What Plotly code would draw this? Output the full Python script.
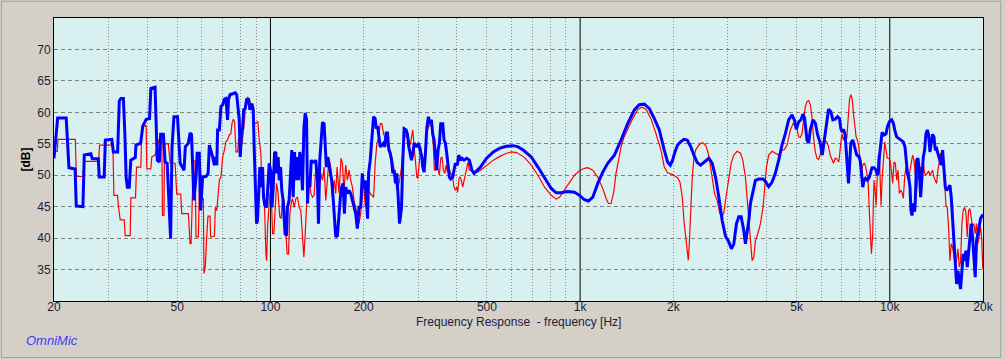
import plotly.graph_objects as go

# ---- data (frequency in Hz, level in dB) ----
red_freq = [20.0, 20.5, 20.6, 23.44, 23.61, 24.85, 25.0, 27.86, 28.07, 30.99, 31.22, 32.08, 32.32, 32.72, 33.71,
            33.96, 35.24, 35.42, 36.67, 36.94, 38.14, 38.43, 39.68, 39.88, 41.08, 41.39, 42.42, 43.59, 44.6, 44.8,
            45.3, 45.5, 46.8, 47.42, 49.22, 49.82, 51.3, 51.7, 54.32, 54.73, 55.0, 55.41, 55.82, 56.38, 57.08,
            57.5, 58.5, 59.23, 59.97, 60.71, 61.01, 61.62, 62.24, 62.85, 63.79, 64.1, 65.9,
            66.4, 67.1, 68.4, 69.2, 70.1, 71.0, 71.8, 72.7, 73.6, 74.5, 75.1, 75.8, 76.6, 77.4, 78.4, 78.9, 79.7,
            80.9, 81.7, 82.5, 83.3, 84.3, 85.4, 86.5, 87.6, 88.4, 90.0, 91.1, 92.0, 93.1, 93.8, 94.8, 95.7, 96.7,
            97.2, 97.9, 98.6, 99.6, 100.5, 101.6, 102.6, 103.6, 104.6, 105.6, 107.2, 108.3, 109.4, 110.7, 112.1,
            113.2, 114.4, 115.5, 116.6, 117.8, 119.3, 120.8, 122.3, 123.8, 125.3, 126.9, 128.2, 129.5, 130.8,
            132.0, 133.3, 135.0, 136.7, 138.4, 140.1, 141.8, 143.6, 145.4, 147.2, 149.0, 150.9, 152.8, 154.6,
            156.5, 158.5, 160.5, 162.5, 164.1, 166.5, 169.0, 170.7, 172.8, 175.0, 177.2, 179.4, 181.6, 183.9,
            186.2, 188.5, 190.8, 193.2, 195.6, 198.0,
            199.9, 202.4, 204.9, 210.0, 215.3, 217.9, 220.7, 223.4, 226.2, 229.0, 231.8, 234.7, 237.6, 240.6,
            243.6, 246.6, 248.5, 250.9, 253.4, 255.9, 258.5, 261.1, 265.0, 268.9, 272.3, 275.6, 279.1, 282.6,
            286.1, 288.2, 291.1, 294.0, 296.9, 299.1, 302.0, 305.8, 308.9, 311.9, 315.8, 319.7, 323.7, 327.7,
            331.8, 335.9, 338.4, 341.0, 344.3, 348.7, 351.2, 354.7, 358.2, 361.8, 365.4, 369.0, 372.7, 376.4,
            382.0, 387.7, 391.6, 395.5, 399.4, 402.3, 406.3, 409.4, 413.5, 417.6, 421.7, 425.9, 430.1, 434.5,
            438.7, 443.1, 452.0, 457.5, 475.0, 499.0, 524.3, 550.8, 578.7, 600.5, 623.3,
            661.9, 695.4, 730.7, 767.7, 806.6, 837.1, 858.1, 890.4, 924.1, 959.0, 995.3, 1032.8, 1058.7, 1099,
            1140.2, 1183.3, 1212.9, 1234.1, 1258.7, 1283.8, 1306.2, 1332.3, 1355.8, 1382.7, 1424.4, 1478.2,
            1534.1, 1580.5, 1632.3, 1693.4, 1758.1, 1823.9, 1869.8, 1916.5, 1989.0, 2063.9,
            2101, 2138, 2164.2, 2191, 2218.6, 2235, 2252, 2273.8, 2302, 2330.9, 2360, 2419, 2480, 2542, 2586,
            2624, 2670.4, 2717, 2771, 2826, 2875.8, 2912, 2970, 3021.6, 3074, 3135.7, 3214, 3295, 3352, 3419.2,
            3479, 3531, 3593, 3637, 3682.7, 3747, 3822, 3898.1, 3947, 3996, 4065.2, 4167, 4271, 4378.1, 4455,
            4566, 4658, 4714.9, 4775, 4870, 4955, 5016, 5076.9, 5142, 5206, 5271, 5336, 5403, 5470, 5538, 5607,
            5676, 5747, 5818, 5891, 5964, 6038, 6113,
            6264, 6342, 6421, 6501, 6581, 6663, 6746, 6847, 6914, 7000, 7088, 7177, 7265, 7338, 7410, 7484, 7558,
            7633, 7710, 7786, 7863, 7941, 8020, 8099, 8180, 8261, 8344, 8426, 8510, 8595, 8681, 8724, 8767, 8810,
            8854, 8898, 8964, 9031, 9120, 9188, 9257, 9303, 9372, 9442, 9536, 9631, 9727, 9823, 9920, 10019,
            10119, 10220, 10321, 10424, 10527, 10631, 10737, 10844, 10952, 11060, 11171, 11281, 11394, 11507,
            11621, 11736, 11853, 11971, 12090, 12210, 12331, 12454, 12578, 12703, 12830, 12958, 13087, 13217,
            13349, 13481, 13615, 13751, 13888, 14026, 14166, 14306, 14449, 14593, 14737, 14885, 15032, 15182,
            15333, 15485, 15639, 15795, 15952, 16111, 16271, 16433, 16596, 16762, 16928, 17097, 17267, 17439,
            17613, 17788, 17965, 18144, 18324, 18506, 18691, 18877, 19064, 19254, 19446, 19640, 19823, 19970]
red_db = [53.8, 53.8, 55.7, 55.7, 49.8, 49.8, 52.2, 52.2, 54.8, 54.8, 46.8, 46.8, 44.9, 42.9, 42.9,
          40.4, 40.4, 46.4, 46.4, 51.3, 51.3, 57.7, 57.9, 51.0, 51.0, 52.9, 53.2, 55.6, 55.6, 43.6,
          43.6, 55.0, 55.0, 51.9, 51.9, 47.0, 47.0, 43.9, 43.9, 41.8, 39.1, 39.1, 45.0, 52.3, 52.3,
          40.2, 40.2, 52.3, 46.3, 46.3, 34.4, 35.4, 40.2, 43.5, 43.5, 40.2, 40.3,
          44.9, 44.4, 49.2, 49.7, 52.9, 54.0, 55.3, 55.6, 56.4, 56.6, 58.2, 58.9, 58.5, 53.7, 53.7, 55.9, 55.1,
          54.8, 56.4, 58.8, 62.0, 62.4, 62.2, 61.2, 61.2, 58.0, 58.4, 58.5, 55.6, 53.5, 49.2, 47.1, 44.9, 37.5,
          36.4, 41.8, 44.9, 47.1, 47.6, 40.7, 40.7, 46.0, 48.7, 47.6, 43.4, 43.1, 46.5, 46.0, 40.7,
          37.5, 37.5, 43.9, 45.5, 46.3, 44.9, 46.3, 46.5, 44.9, 44.4, 39.6, 37.0, 40.7, 44.9,
          49.2, 49.7, 47.1, 46.5, 46.8, 51.3, 48.1, 47.6, 50.3, 49.2, 51.3, 46.0, 50.3, 52.7,
          51.3, 46.5, 49.2, 47.1, 51.3, 47.1, 52.7, 51.9, 47.6, 51.6, 49.2, 50.8, 49.2, 48.1,
          46.0, 44.9, 43.4, 42.3, 43.9, 47.1,
          49.0, 45.0, 48.1, 47.1, 46.5, 51.9, 55.1, 55.9, 58.2, 58.2, 56.6, 55.9, 56.1, 54.5,
          54.0, 52.9, 51.9, 50.3, 49.7, 47.6, 48.1, 49.2, 51.3, 55.0, 56.4, 56.1, 55.9, 54.8,
          56.6, 57.2, 54.5, 52.4, 49.7, 49.5, 51.9, 54.5, 52.9, 52.4, 52.4, 56.6, 57.7, 58.0,
          57.7, 54.5, 50.8, 50.8, 51.9, 50.8, 50.0, 52.7, 52.9, 50.8, 50.3, 51.6, 50.5, 51.3,
          50.3, 49.7, 48.1, 47.6, 48.1, 47.3, 49.5, 49.7, 49.2, 48.1, 49.2, 50.3, 51.3, 52.1,
          50.8, 50.8, 50.5, 50.3, 50.7, 51.6, 52.4, 53.0, 53.5, 53.7, 53.6,
          52.8, 51.6, 50.0, 48.1, 46.8, 46.2, 46.5, 47.6, 48.9, 50.0, 50.7, 51.1, 51.2, 50.8,
          49.7, 47.9, 46.3, 45.5, 45.5, 47.3, 50.3, 52.9, 54.5, 55.9, 57.4, 59.0,
          60.4, 60.8, 60.5, 59.0, 56.6, 54.0, 51.3, 50.4, 50.1, 49.6,
          48.9, 46.5, 42.8, 40.2, 37.5, 36.5, 39.1, 43.4, 49.7, 52.7, 54.0, 54.8, 55.2, 54.8, 53.7,
          52.1, 49.2, 47.1, 46.0, 43.9, 43.4, 44.1, 47.1, 49.7, 51.9, 53.2, 53.8, 53.5, 52.4, 49.7,
          45.5, 41.2, 36.4, 36.9, 39.6, 40.7, 42.3, 44.9, 47.6, 51.3, 53.2, 53.8, 53.5, 53.2, 53.9,
          54.1, 54.8, 56.1, 57.2, 58.2, 57.9, 57.4, 56.1, 56.0, 56.6, 58.8, 60.9, 61.7, 61.9, 61.2, 59.3,
          55.9, 53.7, 52.7, 52.5, 53.3, 54.5, 55.6,
          55.3, 54.5, 53.2, 52.4, 51.9, 52.7, 52.6, 52.1, 54.1, 56.6, 55.6, 56.6, 55.9, 59.3, 62.0, 62.8, 62.2,
          59.8, 58.2, 56.1, 55.6, 54.5, 52.4, 50.5, 51.6, 51.9, 51.6, 50.3, 49.2, 43.9, 39.1, 37.5, 39.1, 40.7,
          46.0, 49.2, 47.6, 45.2, 50.3, 53.2, 52.9, 50.3, 45.2, 49.2, 52.9, 55.3, 54.0, 52.7, 52.7, 52.4,
          50.8, 48.7, 52.1, 51.9, 49.2, 50.8, 47.1, 47.6, 47.3, 46.3, 49.7, 51.3, 49.7, 49.2,
          50.8, 52.4, 53.2, 52.4, 50.3, 47.6, 50.5, 49.2, 51.3, 50.8, 51.9, 50.3, 50.0, 50.3,
          50.7, 50.0, 50.5, 50.8, 49.7, 49.2, 48.7, 50.8, 52.4, 53.5, 53.2, 51.9, 49.2, 45.2,
          44.9, 41.7, 36.4, 39.1, 38.5, 37.2, 35.9, 36.4, 38.3, 35.4, 36.2, 42.3, 44.4, 44.9,
          44.1, 40.2, 44.4, 44.7, 43.4, 41.8, 42.3, 40.7, 42.3, 39.1, 40.4, 41.8, 39.6, 35.1]

blue_freq = [20.0, 20.55, 21.9, 22.1, 22.35, 23.4, 23.6, 24.8, 25.05, 26.3, 26.6, 27.8, 28.0, 29.05, 29.3,
             30.75, 31.1, 32.1, 32.5, 32.9, 33.5, 33.85, 34.2, 34.5, 35.0, 35.4, 36.6, 36.8, 38.1, 38.7, 39.7,
             40.7, 41.1, 42.4, 42.8, 43.1, 43.8, 44.2, 45.1, 45.7, 46.4, 47.1, 47.6, 48.1, 48.8, 50.1, 50.6,
             51.1, 52.6, 53.1, 54.3, 55.0, 55.6, 56.0, 56.6, 57.5, 58.0, 58.9, 59.5, 60.4, 62.0, 62.9, 63.5,
             65.1, 65.9, 66.4, 67.1, 67.5, 68.4, 69.2, 70.1, 71.0, 71.8, 72.7, 73.2, 74.0, 75.5, 77.0, 77.8,
             78.4, 79.3, 79.9, 80.7, 81.3, 81.9, 82.9, 83.7, 85.0, 85.8, 87.1, 88.0, 88.6, 89.3, 90.2, 90.8,
             91.5, 92.4, 93.1, 94.3, 95.0, 95.9, 97.2, 98.1, 99.1, 100.3, 101.1, 102.1, 103.1, 104.1, 104.9,
             105.9, 106.7, 107.8, 108.8, 109.9, 111.5, 112.7, 113.5, 114.9, 116.1, 117.2, 118.4, 119.6, 120.8,
             122.0, 123.2, 124.4, 125.7, 126.9, 128.2, 129.5, 130.8, 131.8, 132.8, 134.1, 135.4, 136.7, 138.4,
             140.1, 141.8, 142.9, 144.3, 145.7, 147.2, 149.0, 150.1, 151.6, 153.1, 155.4, 157.7, 159.3, 160.9,
             162.5, 164.5, 166.5, 168.2, 169.9, 171.6, 173.3, 175.0, 177.2, 179.4, 181.6, 183.9, 186.2, 188.5,
             190.8, 193.2, 195.6, 198.0,
             199.9, 202.4, 205.9, 207.5, 210.0, 212.6, 215.3, 217.9, 219.6, 221.8, 224.0, 226.2, 229.0, 231.8,
             234.1, 236.5, 238.8, 241.2, 243.6, 246.0, 248.5, 250.9, 253.4, 255.9, 258.5, 261.1, 263.0, 265.0,
             267.6, 270.2, 274.3, 277.0, 279.8, 282.6, 285.4, 288.2, 291.1, 294.0, 296.9, 300.6, 304.3, 308.1,
             310.4, 313.5, 316.6, 319.7, 323.7, 327.7, 331.0, 334.3, 337.6, 341.0, 344.3, 347.8, 351.2, 354.7,
             360.0, 363.6, 367.2, 370.9, 374.5, 378.3, 382.0, 387.7, 391.6, 395.5, 401.4, 405.3, 411.4, 415.5,
             421.7, 430.1, 438.7, 443.1, 447.5, 454.2, 475.0, 499.0, 524.3, 550.8, 578.7, 608.0, 631.0, 654.9,
             695.4, 730.7, 767.7, 806.6, 837.1, 868.7, 912.7, 959.0, 995.3, 1032.8, 1064.0, 1099, 1140.2,
             1183.3, 1228.0, 1290.2, 1355.8, 1424.4, 1496.9, 1553.4, 1612.2, 1673.3, 1736.3, 1801.7, 1869.8,
             1916.5, 1954.8, 1989.0, 2023.9, 2063.9,
             2111.5, 2164.2, 2218.6, 2273.8, 2330.9, 2389.2, 2448.9, 2510.3, 2605.5, 2670.4, 2737.1, 2805.7,
             2875.8, 2947.9, 3021.6, 3081.8, 3135.7, 3198.4, 3254.4, 3311.2, 3377.2, 3419.2, 3461.8, 3504.9,
             3548.4, 3619.6, 3682.7, 3774.7, 3898.1, 3966.1, 4065.2, 4167.0, 4271.2, 4378.1, 4487.5, 4599.8,
             4714.9, 4832.8, 4917.0, 4990.1, 5076.9, 5165.2, 5242.1, 5307.2, 5403.4, 5471.6, 5537.3, 5649.8,
             5748.6, 5849.0, 5963.7, 6052.7, 6114.1, 6189.3, 6297.0,
             6342, 6453, 6549, 6663, 6780, 6881, 6949, 7018, 7088, 7177, 7229, 7301, 7356, 7410, 7484, 7596,
             7672, 7748, 7824, 7941, 8020, 8099, 8180, 8261, 8344, 8468, 8595, 8681, 8767, 8898, 9031, 9120,
             9188, 9257, 9349, 9442, 9583, 9727, 9823, 9970, 10143, 10269, 10397, 10527, 10658, 10844, 11060,
             11198, 11281, 11394, 11507, 11621, 11707, 11795, 11912, 12030, 12090, 12210, 12331, 12454, 12578,
             12703, 12830, 12958, 13087, 13217, 13349, 13481, 13615, 13751, 13888, 14026, 14166, 14378, 14520,
             14665, 14811, 14958, 15107, 15257, 15485, 15639, 15795, 15952, 16111, 16271, 16433, 16596, 16762,
             16928, 17097, 17267, 17439, 17613, 17788, 17965, 18144, 18324, 18506, 18691, 18877, 19064, 19254,
             19446, 19640, 19884, 20000]
blue_db = [52.7, 59.1, 59.1, 55.6, 51.2, 51.0, 45.1, 45.0, 53.2, 53.4, 52.6, 52.6, 49.7, 49.7, 55.6,
           55.7, 53.7, 53.7, 61.8, 62.2, 62.2, 57.0, 49.7, 48.1, 48.1, 52.4, 52.8, 54.8, 55.1, 57.8, 58.9,
           59.0, 63.8, 64.0, 58.8, 52.4, 52.1, 56.5, 56.5, 52.1, 51.9, 43.4, 39.9, 54.5, 59.3, 59.3, 54.5,
           51.9, 50.8, 54.5, 55.1, 56.7, 56.5, 52.9, 46.0, 49.7, 53.5, 53.5, 44.4, 49.7, 49.8, 50.3, 54.8,
           52.9, 51.6, 52.9, 51.6, 57.2, 57.2, 60.9, 61.2, 62.1, 62.2, 58.8, 62.0, 62.8, 62.9, 63.1, 62.8,
           60.9, 58.8, 52.9, 57.2, 57.4, 60.4, 60.6, 62.0, 62.0, 60.4, 61.4, 60.4, 54.5, 50.3, 42.3, 42.8,
           47.6, 51.3, 48.1, 51.3, 46.5, 45.2, 44.9, 49.2, 51.9, 50.5, 44.9, 48.1, 53.5, 53.7, 50.3,
           52.9, 49.2, 51.3, 47.6, 46.0, 40.7, 40.4, 44.9, 46.0, 50.3, 54.0, 46.5, 53.7, 49.2,
           52.9, 49.2, 53.7, 51.9, 47.6, 57.4, 59.9, 58.8, 45.5, 49.7, 48.1, 52.4, 52.1, 52.1,
           52.4, 49.2, 42.3, 52.4, 55.6, 58.4, 58.2, 55.1, 51.3, 52.9, 50.8, 49.2, 46.5, 42.3,
           40.2, 40.4, 43.9, 46.5, 48.1, 48.7, 43.9, 48.1, 47.1, 47.6, 47.1, 46.0, 44.9, 43.9,
           41.5, 44.9, 44.9, 50.3,
           48.0, 49.2, 43.1, 50.3, 52.4, 56.5, 59.3, 59.0, 57.4, 57.8, 55.6, 54.5, 54.8, 55.1,
           54.5, 56.7, 56.7, 54.0, 53.5, 52.4, 50.3, 50.8, 48.7, 50.3, 46.5, 42.3, 43.5, 44.9,
           52.4, 57.4, 57.2, 56.5, 54.5, 53.5, 52.4, 53.5, 55.1, 54.8, 54.5, 55.1, 54.0, 52.9,
           51.3, 50.5, 53.5, 57.4, 59.3, 58.2, 58.8, 56.5, 55.6, 53.5, 50.8, 54.0, 55.1, 58.2,
           58.2, 55.6, 55.1, 53.5, 51.3, 49.7, 49.4, 49.7, 50.8, 51.9, 51.6, 53.2, 52.4, 52.7,
           52.4, 52.7, 52.4, 51.3, 50.8, 50.3, 51.2, 52.7, 53.7, 54.3, 54.6, 54.7, 54.5, 54.0,
           52.9, 51.3, 49.5, 47.9, 47.2, 47.2, 47.4, 47.3, 46.8, 46.1, 45.9, 46.5, 48.7,
           50.5, 51.9, 53.2, 55.6, 58.2, 60.4, 61.2, 61.3, 60.6, 59.0, 57.2, 54.0,
           52.1, 51.6, 52.4, 53.7, 54.8,
           55.3, 55.7, 55.6, 54.6, 53.2, 52.0, 51.6, 52.1, 52.7, 51.9, 49.7, 46.5,
           42.8, 40.3, 39.4, 38.3, 39.1, 42.3, 43.4, 43.4, 41.2, 39.1, 40.7, 42.8,
           45.5, 47.6, 49.2, 49.4, 49.4, 49.0, 48.2, 48.9, 50.3, 52.4, 54.8, 56.6,
           58.8, 59.6, 58.8, 57.3, 58.5, 58.8, 59.7, 59.1, 55.6, 55.1, 57.2, 58.8,
           58.3, 56.4, 55.1, 53.2, 54.8, 57.2, 60.1,
           60.5, 60.1, 58.8, 58.9, 59.3, 59.0, 57.4, 56.9, 57.3, 56.4, 54.0, 50.3, 48.7, 51.3, 55.1, 55.6,
           54.8, 54.0, 53.2, 53.0, 52.4, 50.5, 48.1, 49.2, 49.5, 49.2, 49.7, 50.5, 51.2, 51.2, 50.8, 50.0,
           50.5, 52.9, 55.3, 56.8, 56.4, 56.6, 57.7, 58.5, 58.8, 58.3, 57.0, 56.1, 55.9, 55.6, 55.3,
           54.5, 52.9, 50.5, 49.7, 48.1, 44.4, 43.6, 45.5, 44.2, 46.0, 52.4, 52.7, 50.8, 46.5,
           49.2, 52.9, 54.0, 56.6, 57.2, 56.4, 53.7, 55.1, 56.5, 56.1, 54.0, 54.2, 53.2, 52.4,
           51.6, 54.0, 51.1, 48.1, 47.6, 48.1, 48.4, 46.5, 42.8, 39.6, 35.4, 32.7, 34.8, 33.2,
           31.9, 34.8, 37.5, 36.4, 38.0, 35.4, 37.5, 40.2, 42.3, 40.2, 37.0, 33.8, 39.6, 40.9,
           42.3, 43.1, 43.6, 43.7]

x_tick_vals = [20, 50, 100, 200, 500, 1000, 2000, 5000, 10000, 20000]
x_tick_text = ["20", "50", "100", "200", "500", "1k", "2k", "5k", "10k", "20k"]
x_minor_vals = [30, 40, 50, 60, 70, 80, 90, 200, 300, 400, 500, 600, 700, 800, 900,
                2000, 3000, 4000, 5000, 6000, 7000, 8000, 9000]
x_decades = [100, 1000, 10000]
y_tick_vals = [35, 40, 45, 50, 55, 60, 65, 70]

FONT = "Liberation Sans, Arial, sans-serif"
TXT = "#1c1c3c"

fig = go.Figure()
fig.add_trace(go.Scatter(x=red_freq, y=red_db, mode="lines",
                         line=dict(color="#ff0000", width=1.2), hoverinfo="skip", showlegend=False))
fig.add_trace(go.Scatter(x=blue_freq, y=blue_db, mode="lines",
                         line=dict(color="#0000ff", width=3), hoverinfo="skip", showlegend=False))

for d in x_decades:
    fig.add_shape(type="line", xref="x", yref="paper", x0=d, x1=d, y0=0, y1=1,
                  line=dict(color="black", width=1), layer="between")

# outer frame of the window
fig.add_shape(type="rect", xref="paper", yref="paper", x0=-0.0566, x1=1.0191, y0=-0.1999, y1=1.0594,
              line=dict(color="#a0a0a0", width=1), layer="below")

fig.update_layout(
    width=1006, height=359,
    margin=dict(l=54, r=19, t=18, b=58),
    paper_bgcolor="#d4d0c8",
    plot_bgcolor="#d8f0f0",
    font=dict(family=FONT, size=12, color=TXT),
    xaxis=dict(
        type="log", range=[1.30103, 4.30103],
        tickvals=x_tick_vals, ticktext=x_tick_text,
        showgrid=False, zeroline=False, ticks="", ticklen=0, ticklabelstandoff=-5,
        showline=True, mirror=True, linecolor="black", linewidth=1,
        tickfont=dict(family=FONT, size=12, color=TXT),
        minor=dict(tickvals=x_minor_vals, showgrid=True, gridcolor="#8a8a8a",
                   griddash="1px,2px", gridwidth=1, ticks=""),
    ),
    yaxis=dict(
        range=[30, 75], tickvals=y_tick_vals,
        showgrid=True, gridcolor="#808080", griddash="4px,3px", gridwidth=1,
        zeroline=False, ticks="",
        showline=True, mirror=True, linecolor="black", linewidth=1,
        tickfont=dict(family=FONT, size=12, color=TXT),
        title=dict(text="<b>[dB]</b>", font=dict(family=FONT, size=12, color="black"), standoff=4),
    ),
    annotations=[
        dict(text="Frequency Response \u00a0- frequency [Hz]", xref="paper", yref="paper",
             x=0.5, y=-0.0725, xanchor="center", yanchor="middle", showarrow=False,
             font=dict(family=FONT, size=12, color=TXT)),
        dict(text="<i>OmniMic</i>", xref="paper", yref="paper", x=-0.032, y=-0.140,
             xanchor="left", yanchor="middle", showarrow=False,
             font=dict(family=FONT, size=13, color="#3c3cf0")),
    ],
)

fig.write_html("out.html", config={"displayModeBar": False},
               post_script="document.body.style.margin='0';document.body.style.overflow='hidden';")
